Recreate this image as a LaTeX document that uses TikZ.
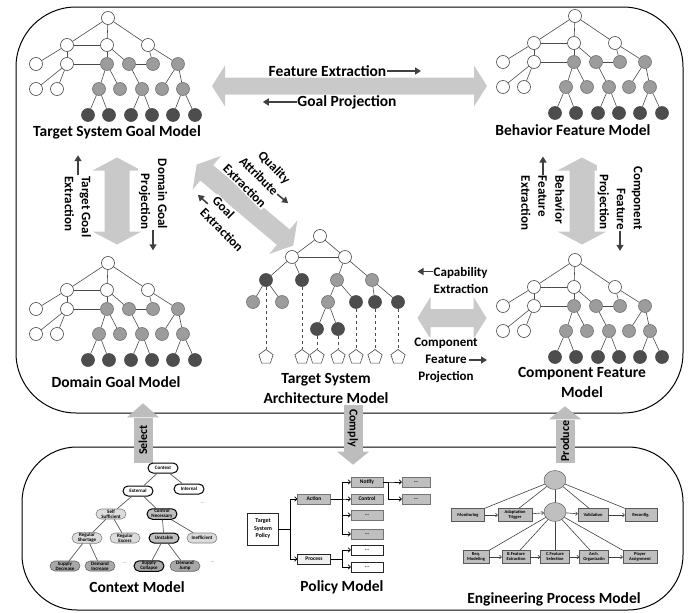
\documentclass[tikz,border=0pt]{standalone}
\usepackage{fontspec}
\setmainfont{Carlito}
\usetikzlibrary{arrows.meta,shapes.geometric,shapes.misc}

\definecolor{arrowgray}{HTML}{C9C9C9}
\definecolor{tagfill}{HTML}{BDBDBD}
\definecolor{midgray}{HTML}{9C9C9C}
\definecolor{deepgray}{HTML}{4D4D4D}
\definecolor{linegray}{HTML}{4A4A4A}
\definecolor{boxgray}{HTML}{BFBFBF}
\definecolor{lightbox}{HTML}{DCDCDC}
\definecolor{deepbox}{HTML}{A8A8A8}

\tikzset{
  frame/.style={draw=black, line width=1pt, rounded corners=60pt},
  wnode/.style={circle, draw=linegray, fill=white, line width=0.6pt, minimum size=13pt, inner sep=0pt},
  gnode/.style={wnode, fill=midgray, draw=black!55},
  dnode/.style={wnode, fill=deepgray, draw=black!70},
  tedge/.style={draw=linegray, line width=0.6pt},
  port/.style={regular polygon, regular polygon sides=5, draw=linegray, fill=white, line width=0.6pt, minimum size=15pt, inner sep=0pt},
  modellabel/.style={font=\bfseries\fontsize{15.5}{20}\selectfont, align=center},
  cuelabel/.style={font=\bfseries\fontsize{13}{17}\selectfont, fill=white, inner sep=1pt},
  toplabel/.style={cuelabel, font=\bfseries\fontsize{15.5}{17}\selectfont, inner sep=0.5pt},
  cue/.style={-{Triangle[length=6pt,width=7pt]}, line width=1.6pt, draw=black!75},
  tag/.style={fill=tagfill, minimum height=19pt, inner sep=0pt, font=\bfseries\fontsize{12}{12}\selectfont},
  % context model
  ctxw/.style={rounded rectangle, draw=black, line width=1pt, fill=white, minimum width=31pt, minimum height=10pt, inner sep=0.5pt, font=\bfseries\fontsize{5}{5.2}\selectfont, align=center},
  ctxl/.style={ctxw, fill=lightbox, draw=black!50, line width=0.6pt},
  ctxm/.style={ctxw, fill=boxgray},
  ctxd/.style={ctxw, fill=deepbox, draw=black!60, line width=0.6pt},
  ctxedge/.style={draw=black!65, line width=0.7pt},
  % policy model
  pbox/.style={draw=black!55, fill=boxgray, minimum width=32pt, minimum height=10pt, inner sep=0pt, font=\bfseries\fontsize{5.5}{6}\selectfont},
  pwbox/.style={pbox, fill=white, draw=black!85},
  parrow/.style={-{To[length=3pt,width=5pt]}, draw=black, line width=0.7pt},
  % engineering process model
  ebox/.style={draw=black!65, fill=boxgray, minimum width=32pt, minimum height=13pt, inner sep=0pt, font=\bfseries\fontsize{4.5}{5}\selectfont, align=center},
  ehub/.style={ellipse, draw=black!70, fill=boxgray, minimum width=22pt, minimum height=19pt, inner sep=0pt},
  eline/.style={draw=black!75, line width=0.6pt},
  earrow/.style={eline, -{To[length=2.5pt,width=4pt]}},
  % pics: double arrow of length #1 and half shaft width #2
  pics/bigarrow/.style 2 args={code={
    \fill[arrowgray] ({-#1/2},0) -- ({-#1/2+13},{-#2-12}) -- ({-#1/2+13},{-#2}) -- ({#1/2-13},{-#2})
      -- ({#1/2-13},{-#2-12}) -- ({#1/2},0) -- ({#1/2-13},{#2+12}) -- ({#1/2-13},{#2})
      -- ({-#1/2+13},{#2}) -- ({-#1/2+13},{#2+12}) -- cycle;
  }},
  featuretree/.pic={
    \foreach \n/\x/\y in {r/0/0, a/-41/27, b/-1/27, c/40/27, d/-72/46, e/-41/46, j/-72/71, k/-51/71}
      \node[wnode] (-\n) at (\x,\y) {};
    \foreach \n/\x/\y in {f/-1/46, g/21/46, h/45/46, i/70/46, l/-9/71, m/12/71, n/34/71, o/54/71, p/75/71}
      \node[gnode] (-\n) at (\x,\y) {};
    \foreach \n/\x in {q1/-20, q2/1, q3/23, q4/44, q5/65, q6/87}
      \node[dnode] (-\n) at (\x,97) {};
    \foreach \u/\v in {r/a, r/b, r/c, a/b, a/d, a/e, e/f, b/f, b/g, g/h, c/h, c/i, e/j, e/k,
                       f/l, f/m, g/n, i/o, i/p, l/q1, l/q2, n/q3, n/q4, p/q5, p/q6}
      \draw[tedge] (-\u) -- (-\v);
  }
}

\begin{document}
\begin{tikzpicture}[x=1pt, y=-1pt]
  \useasboundingbox (0,0) rectangle (694,613);

  % Frames
  \draw[frame] (16,7) rectangle (683,413);
  \draw[frame, rounded corners=55pt] (22,447) rectangle (683,610);

  % Big double arrows
  \pic at (349.5,86) {bigarrow={275}{8.5}};
  \pic[rotate=90] at (117,201) {bigarrow={87}{12.5}};
  \pic[rotate=90] at (582,201) {bigarrow={87}{12.5}};
  \pic[rotate=-40] at (245,205) {bigarrow={126}{10}};
  \pic at (452,318) {bigarrow={69}{9}};

  % Goal and feature trees
  \pic (tsg) at (108,18) {featuretree};
  \pic (bfm) at (575,16) {featuretree};
  \pic (dgm) at (108,263) {featuretree};
  \pic (cfm) at (575,260) {featuretree};

  % Architecture tree
  \foreach \n/\x/\y in {ar/320/236, a1/292/257, a2/345/257}
    \node[wnode] (\n) at (\x,\y) {};
  \foreach \n/\x/\y in {b3/337/280, b4/372/280, c1/253/302, c2/282/302, c3/328/302}
    \node[gnode] (\n) at (\x,\y) {};
  \foreach \n/\x/\y in {b1/266/280, b2/302/280, c4/356/302, c5/375/302, c6/398/302, d1/317/329, d2/338/329}
    \node[dnode] (\n) at (\x,\y) {};
  \foreach \n/\x in {p1/266, p2/302, p3/317, p4/338, p5/356, p6/375, p7/398}
    \node[port] (\n) at (\x,357) {};
  \foreach \u/\v in {ar/a1, ar/a2, a1/a2, a1/b1, a1/b2, a2/b3, a2/b4, b1/c1, b1/c2,
                     b3/c3, b3/c4, b4/c5, b4/c6, c3/d1, c3/d2}
    \draw[tedge] (\u) -- (\v);
  \foreach \u/\v in {b1/p1, b2/p2, d1/p3, d2/p4, c4/p5, c5/p6, c6/p7}
    \draw[tedge, dashed] (\u) -- (\v);

  % Model labels
  \node[modellabel] (tsgl) at (117,132) {Target System Goal Model};
  \node[modellabel] (bfml) at (573,130) {Behavior Feature Model};
  \node[modellabel] (dgml) at (116,382) {Domain Goal Model};
  \node[modellabel] (cfml) at (582,382) {Component Feature\\Model};
  \node[modellabel] (tsal) at (326,388) {Target System\\Architecture Model};

  % Arrow labels with their small arrows
  \node[toplabel] (fe) at (327.5,71) {Feature Extraction};
  \draw[cue] (fe.east) -- ++(34,0);
  \node[toplabel] (gp) at (347,102) {Goal Projection};
  \draw[cue] (gp.west) -- ++(-34,0);
  \node[cuelabel, rotate=-90, align=left] (tge) at (78,207) {Target Goal\\Extraction};
  \draw[cue] (tge.west) -- ++(0,-20);
  \node[cuelabel, rotate=-90, align=right] (dgp) at (153,194) {Domain Goal\\Projection};
  \draw[cue] (dgp.east) -- ++(0,20);
  \node[cuelabel, rotate=-90, align=left] (bfe) at (543,203) {Behavior\\Feature\\Extraction};
  \draw[cue] (bfe.west) -- ++(0,-18);
  \node[cuelabel, rotate=-90, align=right] (cfp) at (620,198) {Component\\Feature\\Projection};
  \draw[cue] (cfp.east) -- ++(0,20);
  \node[cuelabel, rotate=-45, align=right] (qae) at (257,174) {Quality\\Attribute\\Extraction};
  \draw[cue] (qae.east) -- ++(11,9);
  \node[cuelabel, rotate=-45, align=left] (ge) at (228,224) {Goal\\Extraction};
  \draw[cue] (ge.west) -- ++(-10,-9);
  \node[cuelabel, align=left] (cap) at (461,280) {Capability\\Extraction};
  \draw[cue] (cap.west) ++(0,-8.5) -- ++(-15,0);
  \node[cuelabel, align=center] (cpj) at (446,360) {Component\\Feature\\Projection};
  \draw[cue] (cpj.center) ++(23,0) -- ++(18,0);

  % Links between the two frames
  \node[tag, rotate=90, minimum width=45pt] (sel) at (143,440) {Select};
  \fill[tagfill] (sel.east) ++(-16,0) -- ++(32,0) -- ++(-16,-14) -- cycle;
  \node[tag, rotate=-90, minimum width=47pt] (cmp) at (353,428) {Comply};
  \fill[tagfill] (cmp.east) ++(-16,0) -- ++(32,0) -- ++(-16,13) -- cycle;
  \node[tag, rotate=90, minimum width=43pt] (prd) at (565,441) {Produce};
  \fill[tagfill] (prd.east) ++(-16,0) -- ++(32,0) -- ++(-16,-13) -- cycle;

  % Context model
  \node[ctxw] (cx) at (163,468) {Context};
  \node[ctxw] (ext) at (138,491) {External};
  \node[ctxw] (int) at (189,489) {Internal};
  \node[ctxl] (ssf) at (111,514) {Self\\Sufficient};
  \node[ctxm] (cnc) at (162,514) {Control\\Necessary};
  \node[ctxl] (rsh) at (87,538) {Regular\\Shortage};
  \node[ctxl] (rex) at (125,538) {Regular\\Excess};
  \node[ctxm] (uns) at (164,538) {Unstable};
  \node[ctxl] (ine) at (202,538) {Inefficient};
  \node[ctxd] (sde) at (65,566) {Supply\\Decrease};
  \node[ctxd] (din) at (100,566) {Demand\\Increase};
  \node[ctxd, draw=black, line width=1pt] (sco) at (149,566) {Supply\\Collapse};
  \node[ctxd] (dju) at (185,566) {Demand\\Jump};
  \foreach \u/\v in {cx/ext, cx/int, ext/ssf, ext/cnc, ssf/rsh, ssf/rex, cnc/uns, cnc/ine,
                     rsh/sde, rsh/din, uns/sco, uns/dju}
    \draw[ctxedge] (\u) -- (\v);
  \node[font=\fontsize{4}{4}\selectfont] (cd1) at (203,503) {...};
  \node[font=\fontsize{4}{4}\selectfont] (cd2) at (125,563) {...};
  \node[font=\fontsize{4}{4}\selectfont] (cd3) at (213,562) {...};
  \node[modellabel] (ctxl) at (137,587) {Context Model};

  % Policy model
  \node[pwbox, minimum width=31pt, minimum height=32pt, align=center,
        font=\bfseries\fontsize{6}{7.5}\selectfont] (tsp) at (263,529) {Target\\System\\Policy};
  \node[pbox, minimum width=33pt] (act) at (314,499) {Action};
  \node[pwbox, minimum width=33pt, fill=black!6] (prc) at (314,559) {Process};
  \node[pbox] (ntf) at (367,482) {Notify};
  \node[pbox] (ctl) at (367,499) {Control};
  \node[pbox] (ad3) at (367,515) {...};
  \node[pbox] (ad4) at (367,534) {...};
  \node[pwbox] (pd1) at (367,550) {...};
  \node[pwbox] (pd2) at (367,567) {...};
  \node[pbox, minimum width=28pt] (nd1) at (416,482) {...};
  \node[pbox, minimum width=28pt] (nd2) at (416,499) {...};
  \foreach \t in {act, prc}
    \draw[parrow] (tsp.east) -- ++(11.5,0) |- (\t.west);
  \foreach \t in {ntf, ctl, ad3, ad4}
    \draw[parrow] (act.east) -- ++(11.5,0) |- (\t.west);
  \foreach \t in {pd1, pd2}
    \draw[parrow] (prc.east) -- ++(11.5,0) |- (\t.west);
  \foreach \t in {nd1, nd2}
    \draw[parrow] (ntf.east) -- ++(5,0) |- (\t.west);
  \node[modellabel] (pml) at (342,587) {Policy Model};

  % Engineering process model
  \node[ehub] (ept) at (555,480) {};
  \node[ehub] (epm) at (555,512) {};
  \node[ebox, minimum width=33pt] (mon) at (468,515) {Monitoring};
  \node[ebox, minimum width=34pt] (adt) at (515,515) {Adaptation\\Trigger};
  \node[ebox, minimum width=30pt] (val) at (593,515) {Validation};
  \node[ebox, minimum width=32pt] (rec) at (641,515) {Reconfig.};
  \node[ebox, minimum width=26pt] (req) at (476,557) {Req.\\Modeling};
  \node[ebox, minimum width=28pt] (bfx) at (516,557) {B.Feature\\Extraction};
  \node[ebox, minimum width=29pt] (cfs) at (555,557) {C.Feature\\Selection};
  \node[ebox, minimum width=29pt] (arc) at (594,557) {Arch.\\Organizatin};
  \node[ebox, minimum width=34pt] (pla) at (640,557) {Player\\Assignment};
  \foreach \u/\v in {mon/adt, adt/epm, epm/val, val/rec, req/bfx, bfx/cfs, cfs/arc, arc/pla}
    \draw[earrow] (\u) -- (\v);
  \draw[eline] (ept) -- (mon.north east);
  \draw[eline] (ept) -- (adt.60);
  \draw[eline] (ept) -- (epm);
  \draw[eline] (ept) -- (val.120);
  \draw[eline] (ept) -- (rec.north west);
  \draw[eline] (epm) -- (req.north east);
  \draw[eline] (epm) -- (bfx.60);
  \draw[eline] (epm) -- (cfs.north);
  \draw[eline] (epm) -- (arc.120);
  \draw[eline] (epm) -- (pla.north west);
  \node[modellabel] (epml) at (554,599) {Engineering Process Model};
\end{tikzpicture}
\end{document}
